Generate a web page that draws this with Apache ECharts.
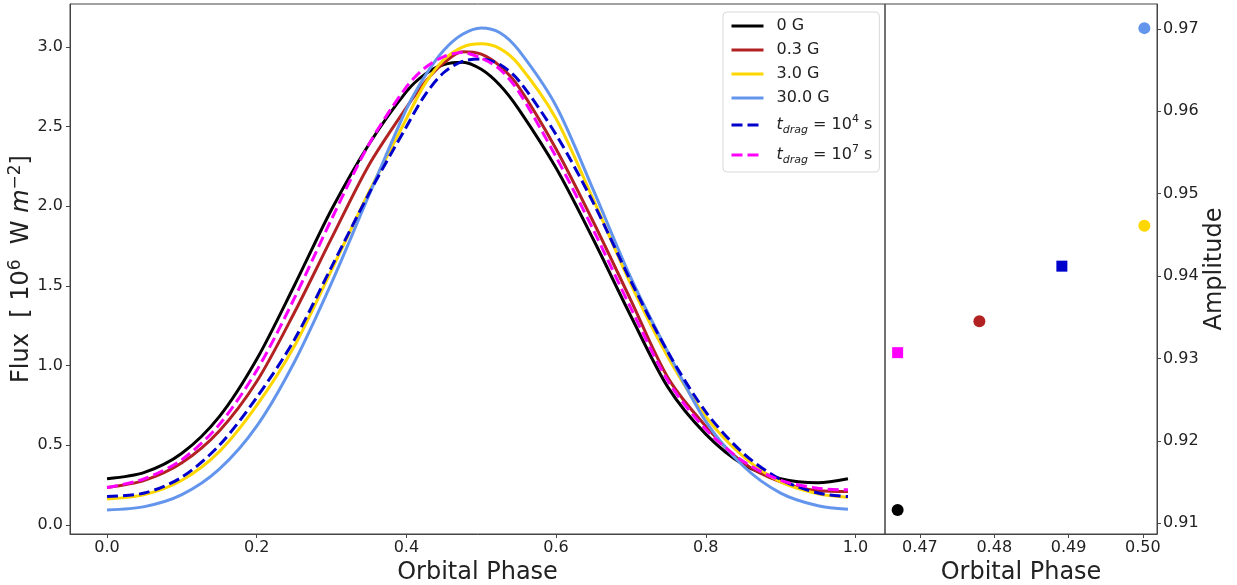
<!DOCTYPE html>
<html>
<head>
<meta charset="utf-8">
<script src="https://cdn.jsdelivr.net/npm/echarts@6/dist/echarts.min.js"></script>
<style>
html,body{margin:0;padding:0;background:#fff;}
#chart{width:1237px;height:585px;}
</style>
</head>
<body>
<div id="chart"></div>
<script>
// ---------- data ----------
const phase = [0, 0.05, 0.1, 0.15, 0.2, 0.25, 0.3, 0.35, 0.4, 0.425, 0.45, 0.475, 0.5, 0.525, 0.55, 0.6, 0.65, 0.7, 0.75, 0.8, 0.85, 0.9, 0.95, 0.99];
const flux0G   = [0.29, 0.33, 0.45, 0.68, 1.04, 1.50, 1.98, 2.39, 2.72, 2.83, 2.89, 2.905, 2.86, 2.76, 2.61, 2.24, 1.79, 1.31, 0.86, 0.57, 0.38, 0.29, 0.265, 0.29];
const flux03G  = [0.235, 0.28, 0.39, 0.59, 0.90, 1.33, 1.80, 2.26, 2.62, 2.78, 2.90, 2.97, 2.955, 2.88, 2.75, 2.36, 1.90, 1.41, 0.92, 0.62, 0.39, 0.27, 0.215, 0.21];
const flux3G   = [0.163, 0.19, 0.28, 0.46, 0.75, 1.12, 1.60, 2.09, 2.55, 2.77, 2.92, 3.00, 3.02, 2.99, 2.89, 2.55, 2.04, 1.51, 1.05, 0.68, 0.43, 0.27, 0.195, 0.174];
const flux30G  = [0.094, 0.115, 0.19, 0.35, 0.62, 1.02, 1.52, 2.07, 2.61, 2.82, 2.98, 3.08, 3.12, 3.09, 2.98, 2.63, 2.10, 1.55, 1.08, 0.65, 0.37, 0.20, 0.12, 0.098];
const fluxDrag4 = [0.178, 0.20, 0.30, 0.50, 0.80, 1.16, 1.62, 2.08, 2.50, 2.70, 2.84, 2.91, 2.925, 2.89, 2.79, 2.45, 2.02, 1.53, 1.08, 0.71, 0.45, 0.285, 0.20, 0.178];
const fluxDrag7 = [0.235, 0.29, 0.41, 0.63, 0.97, 1.42, 1.92, 2.39, 2.75, 2.87, 2.94, 2.965, 2.93, 2.86, 2.72, 2.31, 1.85, 1.36, 0.90, 0.60, 0.40, 0.28, 0.23, 0.22];

const seriesNames = ['0 G', '0.3 G', '3.0 G', '30.0 G', 't_drag = 10^4 s', 't_drag = 10^7 s'];
const fluxSets = [flux0G, flux03G, flux3G, flux30G, fluxDrag4, fluxDrag7];

// peak phase and amplitude (right panel)
const ampPhase = [0.4670, 0.4780, 0.5002, 0.5002, 0.4891, 0.4670];
const ampValue = [0.9116, 0.9345, 0.9461, 0.9701, 0.9412, 0.9307];

// tick labels
const xTicksLeft = [0, 0.2, 0.4, 0.6, 0.8, 1.0];
const yTicksLeft = [0, 0.5, 1.0, 1.5, 2.0, 2.5, 3.0];
const xTicksRight = [0.47, 0.48, 0.49, 0.50];
const yTicksRight = [0.91, 0.92, 0.93, 0.94, 0.95, 0.96, 0.97];

// ---------- styles ----------
const colors = ['#000000', '#b22222', '#ffd700', '#6495ed', '#0000cd', '#ff00ff'];
const dashed = [false, false, false, false, true, true];
const markers = ['circle', 'circle', 'circle', 'circle', 'rect', 'rect'];
const FONT = 'DejaVu Sans';
const TXT = '#222';

const chart = echarts.init(document.getElementById('chart'), null, {renderer: 'canvas'});

const lineSeries = fluxSets.map((arr, k) => ({
  name: seriesNames[k],
  type: 'line',
  xAxisIndex: 0, yAxisIndex: 0,
  data: phase.map((p, i) => [p, arr[i]]),
  symbol: 'none',
  smooth: 0.3,
  lineStyle: {color: colors[k], width: 3, type: dashed[k] ? [11, 5] : 'solid'},
  itemStyle: {color: colors[k]},
  z: 2 + k
}));

const scatterSeries = {
  name: 'amp',
  type: 'scatter',
  xAxisIndex: 1, yAxisIndex: 1,
  data: ampPhase.map((p, i) => ({
    value: [p, ampValue[i]],
    symbol: markers[i],
    symbolSize: markers[i] === 'rect' ? 11 : 12,
    itemStyle: {color: colors[i], opacity: 1}
  })),
  itemStyle: {opacity: 1},
  z: 5
};

const richLegend = {
  n: {fontSize: 16, fontFamily: FONT, color: TXT, lineHeight: 22, verticalAlign: 'middle'},
  i: {fontSize: 16, fontFamily: FONT, color: TXT, lineHeight: 22, fontStyle: 'italic', verticalAlign: 'middle'},
  sub: {fontSize: 11, fontFamily: FONT, color: TXT, lineHeight: 12, fontStyle: 'italic', verticalAlign: 'bottom'},
  sup: {fontSize: 11, fontFamily: FONT, color: TXT, lineHeight: 12, verticalAlign: 'top'}
};

function legendFmt(name) {
  const m = name.match(/^t_drag = 10\^(\d+) s$/);
  if (m) return '{i|t}{sub|drag}{n| = 10}{sup|' + m[1] + '}{n| s}';
  return name;
}

const tickStyle = {show: true, inside: false, length: 4, lineStyle: {color: '#444', width: 1}};
const axisCommon = {
  type: 'value',
  splitLine: {show: false},
  axisLine: {show: true, onZero: false, lineStyle: {color: '#444', width: 1}},
  nameTextStyle: {fontSize: 24, fontFamily: FONT, color: TXT},
  nameLocation: 'middle'
};

const option = {
  animation: false,
  backgroundColor: '#fff',
  textStyle: {fontFamily: FONT},
  grid: [
    {left: 70, top: 4, width: 815, height: 530, show: true, borderColor: '#444', borderWidth: 1, backgroundColor: 'transparent', outerBoundsMode: 'none', containLabel: false},
    {left: 885, top: 4, width: 272, height: 530, show: true, borderColor: '#444', borderWidth: 1, backgroundColor: 'transparent', outerBoundsMode: 'none', containLabel: false}
  ],
  legend: {
    data: seriesNames,
    orient: 'vertical',
    left: 723, top: 12,
    itemWidth: 32, itemHeight: 14, itemGap: 8,
    padding: [6, 7, 6, 7],
    backgroundColor: 'rgba(255,255,255,0.85)',
    borderColor: '#d8d8d8', borderWidth: 1, borderRadius: 4,
    itemStyle: {opacity: 0},
    lineStyle: {width: 3},
    formatter: legendFmt,
    textStyle: {fontSize: 16, fontFamily: FONT, color: TXT, lineHeight: 14, padding: [0, 0, 0, 8], rich: richLegend}
  },
  xAxis: [
    Object.assign({}, axisCommon, {
      gridIndex: 0, min: -0.0495, max: 1.0395,
      name: 'Orbital Phase', nameGap: 20,
      axisLabel: {customValues: xTicksLeft, formatter: v => v.toFixed(1), fontSize: 16, fontFamily: FONT, color: TXT, margin: 6},
      axisTick: Object.assign({}, tickStyle, {customValues: xTicksLeft})
    }),
    Object.assign({}, axisCommon, {
      gridIndex: 1, min: 0.4653, max: 0.5019,
      name: 'Orbital Phase', nameGap: 20,
      axisLabel: {customValues: xTicksRight, formatter: v => v.toFixed(2), fontSize: 16, fontFamily: FONT, color: TXT, margin: 6},
      axisTick: Object.assign({}, tickStyle, {customValues: xTicksRight})
    })
  ],
  yAxis: [
    Object.assign({}, axisCommon, {
      gridIndex: 0, min: -0.057, max: 3.27,
      name: '{n|Flux  [ 10}{sup|6}{n|  W }{i|m}{sup|−2}{n|]}',
      nameGap: 33, nameRotate: 90, nameMoveOverlap: false,
      nameTextStyle: {fontSize: 24, fontFamily: FONT, color: TXT, rich: {
        n: {fontSize: 24, fontFamily: FONT, color: TXT, lineHeight: 30, verticalAlign: 'middle'},
        i: {fontSize: 24, fontFamily: FONT, color: TXT, lineHeight: 30, fontStyle: 'italic', verticalAlign: 'middle'},
        sup: {fontSize: 17, fontFamily: FONT, color: TXT, lineHeight: 16, verticalAlign: 'top'}
      }},
      axisLabel: {customValues: yTicksLeft, formatter: v => v.toFixed(1), fontSize: 16, fontFamily: FONT, color: TXT, margin: 7},
      axisTick: Object.assign({}, tickStyle, {customValues: yTicksLeft})
    }),
    Object.assign({}, axisCommon, {
      gridIndex: 1, position: 'right', min: 0.90868, max: 0.97303,
      name: 'Amplitude', nameGap: 43, nameRotate: 90,
      axisLabel: {customValues: yTicksRight, formatter: v => v.toFixed(2), fontSize: 16, fontFamily: FONT, color: TXT, margin: 6},
      axisTick: Object.assign({}, tickStyle, {customValues: yTicksRight})
    })
  ],
  series: lineSeries.concat([scatterSeries])
};

chart.setOption(option);
</script>
</body>
</html>
